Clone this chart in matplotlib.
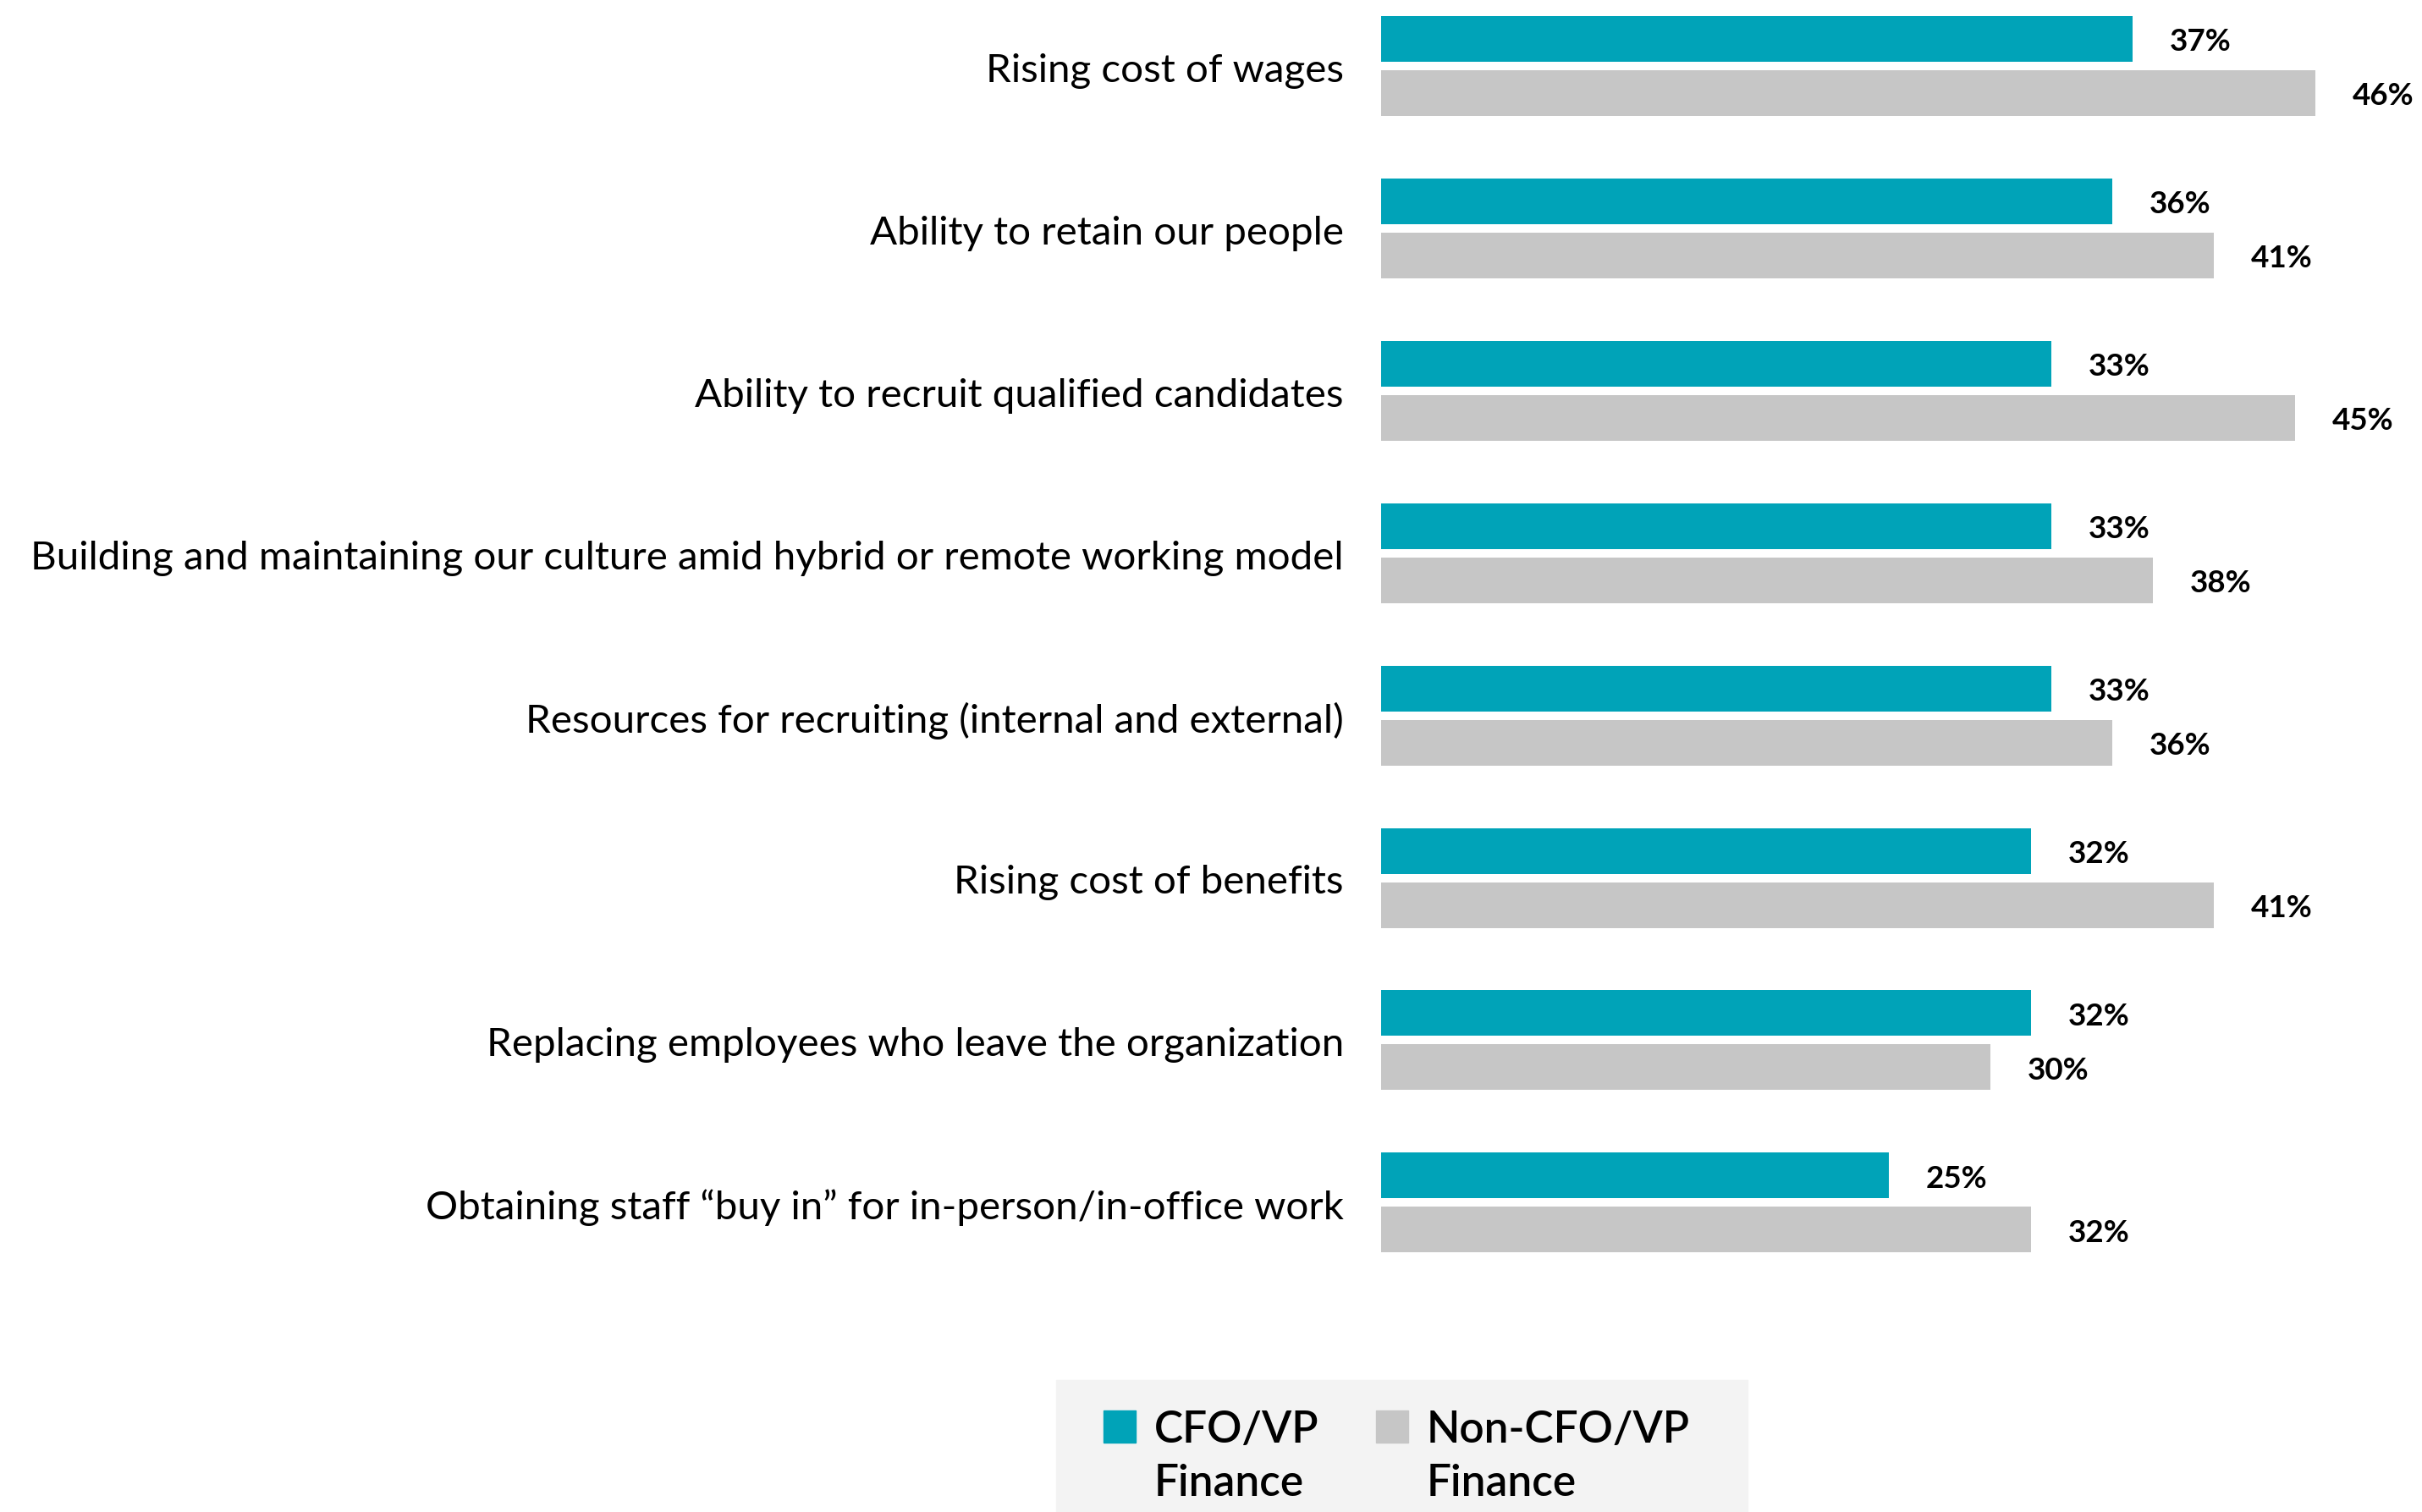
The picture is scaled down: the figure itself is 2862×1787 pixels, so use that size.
import numpy as np
import matplotlib.pyplot as plt
from matplotlib.patches import Rectangle

plt.rcParams['font.family'] = ['Lato', 'DejaVu Sans']

# Datos del gráfico
categorias = [
    "Rising cost of wages",
    "Ability to retain our people",
    "Ability to recruit qualified candidates",
    "Building and maintaining our culture amid hybrid or remote working model",
    "Resources for recruiting (internal and external)",
    "Rising cost of benefits",
    "Replacing employees who leave the organization",
    "Obtaining staff \u201cbuy in\u201d for in-person/in-office work",
]
cfo = [37, 36, 33, 33, 33, 32, 32, 25]
no_cfo = [46, 41, 45, 38, 36, 41, 30, 32]
series = ["CFO/VP\nFinance", "Non-CFO/VP\nFinance"]
colores = ['#00a3b8', '#c6c6c6']

W, H = 2862, 1787
fig = plt.figure(figsize=(W / 100, H / 100), dpi=100)

# Eje ocupando el lado derecho, escala 24 px por punto porcentual
x0 = 1632
ax = fig.add_axes([x0 / W, 0, 1 - x0 / W, 1])
paso = 191.9
ax.set_xlim(0, (W - x0) / 24)
ax.set_ylim((H - 78) / paso, -78 / paso)

y = np.arange(len(categorias))
off = 32 / paso
alto = 54 / paso
ax.barh(y - off, cfo, height=alto, color=colores[0])
ax.barh(y + off, no_cfo, height=alto, color=colores[1])

# Etiquetas de valores
dx = 44 / 24
dy = 4 / paso
for i in range(len(categorias)):
    ax.text(cfo[i] + dx, y[i] - off + dy, f"{cfo[i]}%", va='center', ha='left',
            fontsize=26.5, fontweight='bold')
    ax.text(no_cfo[i] + dx, y[i] + off + dy, f"{no_cfo[i]}%", va='center', ha='left',
            fontsize=26.5, fontweight='bold')

ax.set_yticks(y + 2 / paso)
ax.set_yticklabels(categorias, fontsize=34.2)
ax.tick_params(axis='y', length=0, pad=31.7)
ax.set_xticks([])
for s in ax.spines.values():
    s.set_visible(False)

# Leyenda dibujada a mano (cuadro gris claro que se corta abajo)
fig.patches.append(Rectangle((1248 / W, 0), 817 / W, (H - 1631) / H,
                             transform=fig.transFigure, color='#f3f3f3', zorder=0))
hx = [1304, 1626]
for j, nombre in enumerate(series):
    fig.patches.append(Rectangle((hx[j] / W, 1 - 1705 / H), 38 / W, 38 / H,
                                 transform=fig.transFigure, color=colores[j], zorder=1))
    for k, linea in enumerate(nombre.split("\n")):
        fig.text((hx[j] + 60) / W, 1 - (1705 + 63 * k) / H, linea,
                 fontsize=37, fontweight='semibold', va='baseline', ha='left')

fig.savefig('out.png', dpi=100)
